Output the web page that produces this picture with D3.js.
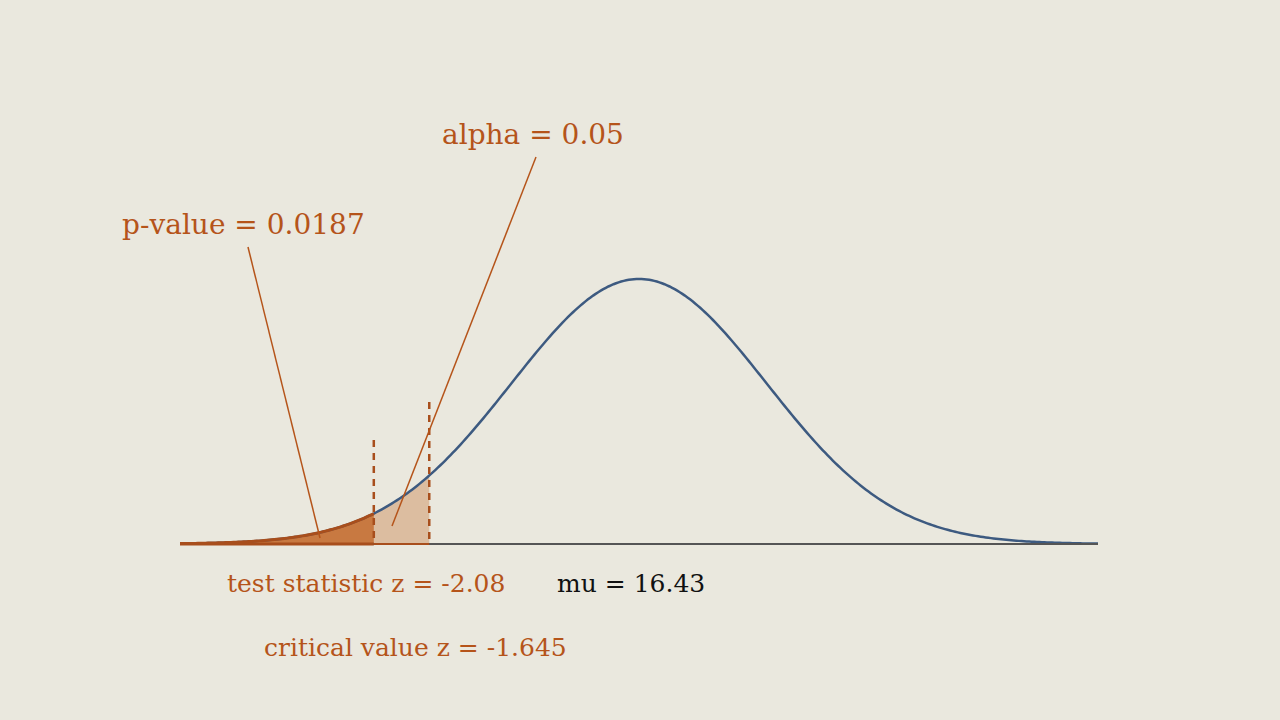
<!DOCTYPE html>
<html lang="en">
<head>
<meta charset="UTF-8">
<script src="https://cdn.jsdelivr.net/npm/d3@7"></script>
<style>
  body { margin: 0; background: #eae8de; }
  text { font-family: "DejaVu Serif", serif; }
</style>
</head>
<body>
<script>
// z range shown and the two cut points
var zRange = [-3.6, 3.6];
var zStat = -2.08, zCrit = -1.645;
var pValueLabel = "p-value = 0.0187", alphaLabel = "alpha = 0.05";
var statLabel = "test statistic z = -2.08", critLabel = "critical value z = -1.645", muLabel = "mu = 16.43";

var orange = "#b5541a";
var svg = d3.select("body").append("svg").attr("width", 1280).attr("height", 720);

var x = d3.scaleLinear().domain(zRange).range([180, 1098]);
var y = d3.scaleLinear().domain([0, 0.3989]).range([544, 279]);
function dens(z) { return Math.exp(-z * z / 2) / Math.sqrt(2 * Math.PI); }

var pts = d3.range(zRange[0], zRange[1] + 0.001, 0.02);
var line = d3.line().x(function(d){return x(d);}).y(function(d){return y(dens(d));});
var area = d3.area().x(function(d){return x(d);}).y0(y(0)).y1(function(d){return y(dens(d));});

var alphaPts = pts.filter(function(d){return d <= zCrit;}).concat([zCrit]);
var pPts = pts.filter(function(d){return d <= zStat;}).concat([zStat]);

svg.append("path").attr("d", area(alphaPts)).attr("fill", "#dcbda0");
svg.append("path").attr("d", area(pPts)).attr("fill", "#c87941");

svg.append("path").attr("d", line(pts)).attr("fill", "none").attr("stroke", "#3d5a80").attr("stroke-width", 2.5);
svg.append("path").attr("d", line(pPts)).attr("fill", "none").attr("stroke", "#a84e1c").attr("stroke-width", 3);

// baseline
svg.append("line").attr("x1", x(zRange[0])).attr("x2", x(zRange[1]))
  .attr("y1", y(0)).attr("y2", y(0)).attr("stroke", "#555").attr("stroke-width", 2);
svg.append("line").attr("x1", x(zRange[0])).attr("x2", x(zStat))
  .attr("y1", y(0)).attr("y2", y(0)).attr("stroke", "#a84e1c").attr("stroke-width", 3);
svg.append("line").attr("x1", x(zStat)).attr("x2", x(zCrit))
  .attr("y1", y(0)).attr("y2", y(0)).attr("stroke", "#a84e1c").attr("stroke-width", 2);

// dashed cut lines
[[zStat, 440], [zCrit, 402]].forEach(function(c) {
  svg.append("line").attr("x1", x(c[0])).attr("x2", x(c[0]))
    .attr("y1", c[1]).attr("y2", y(0))
    .attr("stroke", "#a84e1c").attr("stroke-width", 2.5).attr("stroke-dasharray", "7,6");
});

// annotations
svg.append("line").attr("x1", 248).attr("y1", 247).attr("x2", 320).attr("y2", 538).attr("stroke", orange).attr("stroke-width", 1.5);
svg.append("line").attr("x1", 536).attr("y1", 157).attr("x2", 392).attr("y2", 526).attr("stroke", orange).attr("stroke-width", 1.5);

svg.append("text").attr("x", 122).attr("y", 234).attr("font-size", 28).attr("fill", orange).text(pValueLabel);
svg.append("text").attr("x", 442).attr("y", 144).attr("font-size", 28).attr("fill", orange).text(alphaLabel);
svg.append("text").attr("x", 227).attr("y", 592).attr("font-size", 25).attr("fill", orange).text(statLabel);
svg.append("text").attr("x", 557).attr("y", 592).attr("font-size", 25).attr("fill", "#111").text(muLabel);
svg.append("text").attr("x", 264).attr("y", 656).attr("font-size", 25).attr("fill", orange).text(critLabel);
</script>
</body>
</html>
